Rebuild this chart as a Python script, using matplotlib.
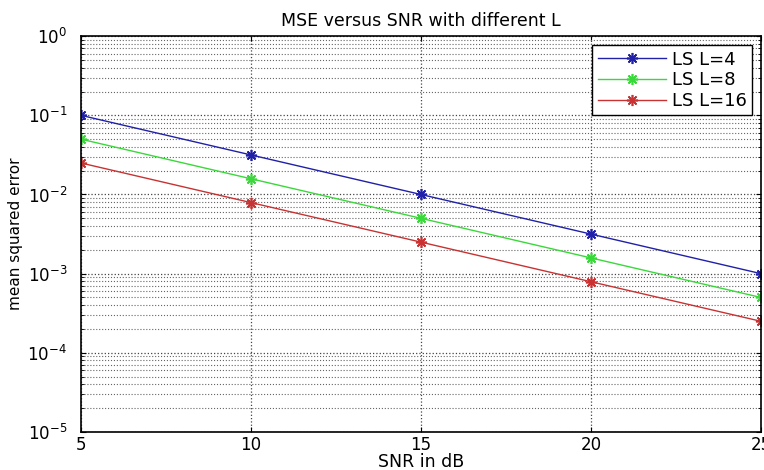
import numpy as np
import matplotlib.pyplot as plt

snr_db = [5, 10, 15, 20, 25]
mse_l4 = [0.1, 0.0316, 0.01, 0.00316, 0.001]
mse_l8 = [0.05, 0.0158, 0.005, 0.00158, 0.0005]
mse_l16 = [0.025, 0.0079, 0.0025, 0.00079, 0.00025]
labels = ['LS L=4', 'LS L=8', 'LS L=16']

plt.rcParams['font.family'] = ['DejaVu Sans']
plt.rcParams['mathtext.default'] = 'regular'

fig = plt.figure(figsize=(7.64, 4.70), dpi=100)
ax = fig.add_axes([0.106, 0.081, 0.890, 0.842])

star = (8, 2, 0)  # matlab-style asterisk
ax.semilogy(snr_db, mse_l4, '-', marker=star, color='#2020a8', lw=1, ms=8, mew=1.2, label=labels[0])
ax.semilogy(snr_db, mse_l8, '-', marker=star, color='#3ad83a', lw=1, ms=8, mew=1.2, label=labels[1])
ax.semilogy(snr_db, mse_l16, '-', marker=star, color='#c83232', lw=1, ms=8, mew=1.2, label=labels[2])

ax.set_xlim(5, 25)
ax.set_ylim(1e-5, 1)
ax.set_xticks([5, 10, 15, 20, 25])
ax.grid(True, which='major', ls=':', color='#444444', lw=0.9)
ax.grid(True, which='minor', axis='y', ls=':', color='#666666', lw=0.8)
ax.tick_params(which='both', direction='in', labelsize=12, top=True, right=True)
ax.tick_params(axis='y', pad=10)
ax.tick_params(axis='x', pad=3)
for s in ax.spines.values():
    s.set_linewidth(1.2)

ax.set_title('MSE versus SNR with different L', fontsize=12.5, pad=7)
ax.set_xlabel('SNR in dB', fontsize=12.5, labelpad=-1)
ax.set_ylabel('mean squared error', fontsize=11, labelpad=3)

leg = ax.legend(loc='upper right', fontsize=13, fancybox=False, framealpha=1,
                edgecolor='black', borderaxespad=0.5, handlelength=3.8,
                labelspacing=0.15, borderpad=0.3, handletextpad=0.3)
leg.get_frame().set_linewidth(1.0)

fig.savefig('out.png', dpi=100)
